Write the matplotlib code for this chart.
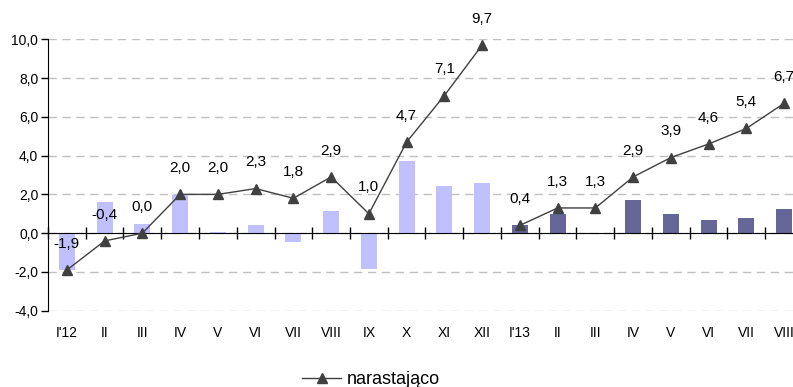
import numpy as np
import matplotlib.pyplot as plt

plt.rcParams['font.family'] = ['Liberation Sans', 'DejaVu Sans']

# Dane
miesiace = ["I'12", "II", "III", "IV", "V", "VI", "VII", "VIII", "IX", "X", "XI", "XII",
            "I'13", "II", "III", "IV", "V", "VI", "VII", "VIII"]
slupki_2012 = [-1.9, 1.6, 0.45, 1.95, 0.08, 0.4, -0.45, 1.15, -1.85, 3.7, 2.45, 2.6]
slupki_2013 = [0.4, 1.0, 0.0, 1.7, 1.0, 0.7, 0.8, 1.25]
narastajaco_2012 = [-1.9, -0.4, 0.0, 2.0, 2.0, 2.3, 1.8, 2.9, 1.0, 4.7, 7.1, 9.7]
narastajaco_2013 = [0.4, 1.3, 1.3, 2.9, 3.9, 4.6, 5.4, 6.7]

x12 = np.arange(len(slupki_2012))
x13 = np.arange(len(slupki_2013)) + len(slupki_2012)
n = len(miesiace)

fig = plt.figure(figsize=(7.93, 3.87), dpi=100)
ax = fig.add_axes([48 / 793, (387 - 310.7) / 387, (803 - 48) / 793, (310.7 - 39.3) / 387])

ax.bar(x12, slupki_2012, width=0.42, color='#C0C0FF', zorder=2)
ax.bar(x13, slupki_2013, width=0.42, color='#666699', zorder=2)

kolor = '#404040'
ax.plot(x12, narastajaco_2012, color=kolor, lw=1, marker='^', ms=6.5, zorder=3,
        label='narastająco')
ax.plot(x13, narastajaco_2013, color=kolor, lw=1, marker='^', ms=6.5, zorder=3)

for xs, ys in [(x12, narastajaco_2012), (x13, narastajaco_2013)]:
    for xi, yi in zip(xs, ys):
        ax.annotate(f"{yi:.1f}".replace('.', ','), (xi, yi), xytext=(0, 19),
                    textcoords='offset points', ha='center', va='center',
                    fontsize=11, zorder=4)

# Osie
ax.set_xlim(-0.5, n - 0.5)
ax.set_ylim(-4, 10)
ax.set_yticks(np.arange(-4, 11, 2))
ax.set_yticklabels([f"{v:.1f}".replace('.', ',') for v in np.arange(-4, 11, 2)],
                   fontsize=10)
ax.tick_params(axis='y', direction='out', length=5, width=1, pad=2)
ax.grid(axis='y', color='#C0C0C0', linestyle=(0, (6, 4)), lw=1, zorder=0)

ax.spines['top'].set_visible(False)
ax.spines['right'].set_visible(False)
ax.spines['left'].set_color('black')
ax.spines['bottom'].set_position(('data', 0))
ax.spines['bottom'].set_color('black')
ax.set_xticks(np.arange(-0.5, n, 1))
ax.set_xticklabels([])
ax.tick_params(axis='x', direction='inout', length=8, width=1)

sec = ax.secondary_xaxis(0)
sec.set_xticks(np.arange(n))
sec.set_xticklabels(miesiace, fontsize=10)
sec.tick_params(length=0, pad=11)
sec.spines['bottom'].set_visible(False)

fig.legend(loc='center', bbox_to_anchor=(371 / 793, 1 - 380 / 387), frameon=False,
           fontsize=13, handlelength=2.15, handletextpad=0.3)

fig.savefig('out.png', dpi=100)
